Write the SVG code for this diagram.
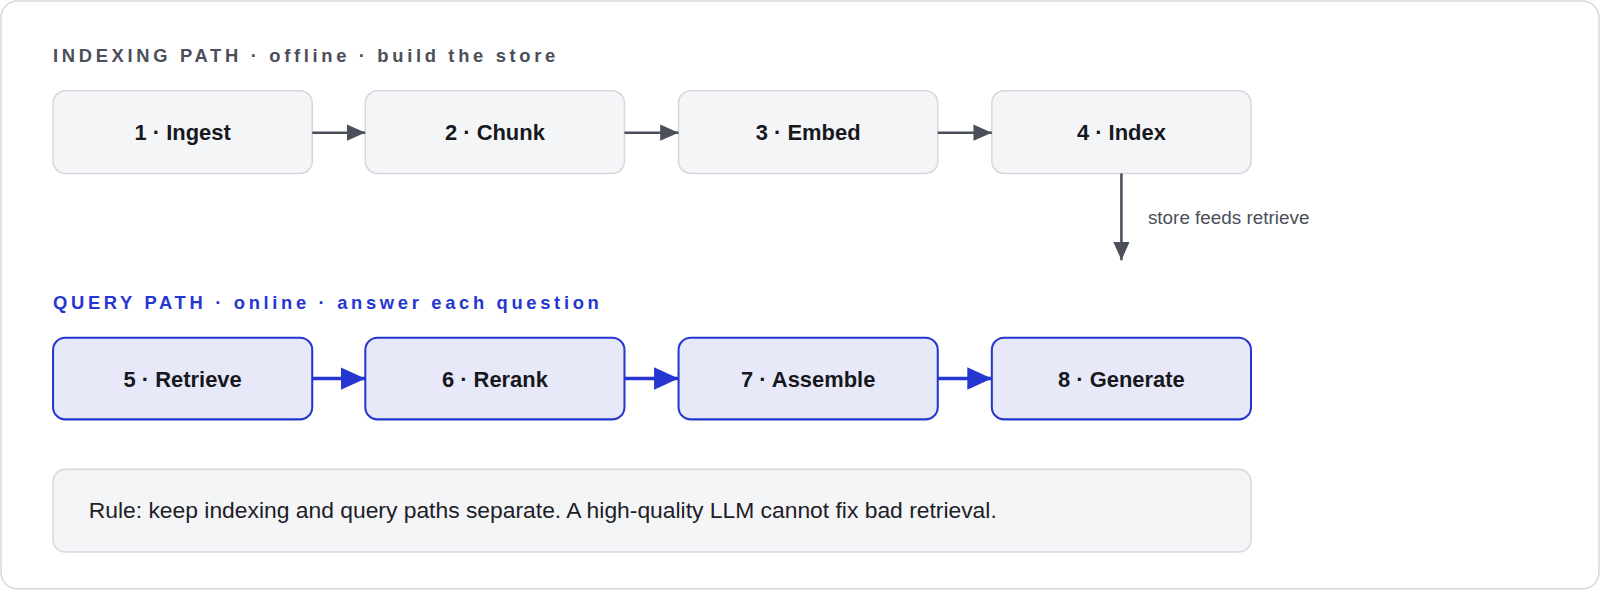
<svg xmlns="http://www.w3.org/2000/svg" width="1600" height="591" viewBox="0 0 1600 591">
<style>
.hdr{font-family:"Helvetica Neue","Liberation Sans",Arial,sans-serif;font-size:18px;font-weight:700;letter-spacing:3.6px}
.n1{fill:#f4f5f7;stroke:#d5d8de;stroke-width:1.5}
.n2{fill:#e8e9f8;stroke:#2636d0;stroke-width:2}
.lbl{font-family:"Helvetica Neue","Liberation Sans",Arial,sans-serif;font-size:21.5px;font-weight:700;fill:#16181d;text-anchor:middle}
.small{font-family:"Helvetica Neue","Liberation Sans",Arial,sans-serif;font-size:18.5px;fill:#4a4f5a}
.rule{font-family:"Helvetica Neue","Liberation Sans",Arial,sans-serif;font-size:22.4px;fill:#1d2026}
</style>
<defs>
<marker id="ag" markerWidth="18" markerHeight="16" refX="18" refY="8" orient="auto" markerUnits="userSpaceOnUse"><path d="M0,0L18,8L0,16z" fill="#4a4f5a"/></marker>
<marker id="ab" markerWidth="24" markerHeight="22" refX="24" refY="11" orient="auto" markerUnits="userSpaceOnUse"><path d="M0,0L24,11L0,22z" fill="#2636d0"/></marker>
</defs>
<g transform="scale(1.0204)">
<rect x="1" y="1" width="1566" height="576" rx="16" fill="#fff" stroke="#d5d8de" stroke-width="1.5"/>
<text x="52" y="61" class="hdr" fill="#4a4f5a">INDEXING PATH · offline · build the store</text>
<text x="52" y="303" class="hdr" fill="#2636d0">QUERY PATH · online · answer each question</text>
<g id="n1"><rect class="n1" x="52" y="89" width="254" height="81" rx="12"/><text class="lbl" x="179" y="137">1 · Ingest</text></g>
<g id="n2"><rect class="n1" x="358" y="89" width="254" height="81" rx="12"/><text class="lbl" x="485" y="137">2 · Chunk</text></g>
<g id="n3"><rect class="n1" x="665" y="89" width="254" height="81" rx="12"/><text class="lbl" x="792" y="137">3 · Embed</text></g>
<g id="n4"><rect class="n1" x="972" y="89" width="254" height="81" rx="12"/><text class="lbl" x="1099" y="137">4 · Index</text></g>
<g id="n5"><rect class="n2" x="52" y="331" width="254" height="80" rx="12"/><text class="lbl" x="179" y="379">5 · Retrieve</text></g>
<g id="n6"><rect class="n2" x="358" y="331" width="254" height="80" rx="12"/><text class="lbl" x="485" y="379">6 · Rerank</text></g>
<g id="n7"><rect class="n2" x="665" y="331" width="254" height="80" rx="12"/><text class="lbl" x="792" y="379">7 · Assemble</text></g>
<g id="n8"><rect class="n2" x="972" y="331" width="254" height="80" rx="12"/><text class="lbl" x="1099" y="379">8 · Generate</text></g>
<g id="note"><rect class="n1" x="52" y="460" width="1174" height="81" rx="12"/><text class="rule" x="87" y="508">Rule: keep indexing and query paths separate. A high-quality LLM cannot fix bad retrieval.</text></g>
<g id="connectors" fill="none">
<path d="M306,130H358" stroke="#4a4f5a" stroke-width="2.5" marker-end="url(#ag)"/>
<path d="M612,130H665" stroke="#4a4f5a" stroke-width="2.5" marker-end="url(#ag)"/>
<path d="M919,130H972" stroke="#4a4f5a" stroke-width="2.5" marker-end="url(#ag)"/>
<path d="M1099,170V255" stroke="#4a4f5a" stroke-width="2.5" marker-end="url(#ag)"/>
<path d="M306,371H358" stroke="#2636d0" stroke-width="3.5" marker-end="url(#ab)"/>
<path d="M612,371H665" stroke="#2636d0" stroke-width="3.5" marker-end="url(#ab)"/>
<path d="M919,371H972" stroke="#2636d0" stroke-width="3.5" marker-end="url(#ab)"/>
<text class="small" x="1125" y="220">store feeds retrieve</text>
</g>
</g>
</svg>
